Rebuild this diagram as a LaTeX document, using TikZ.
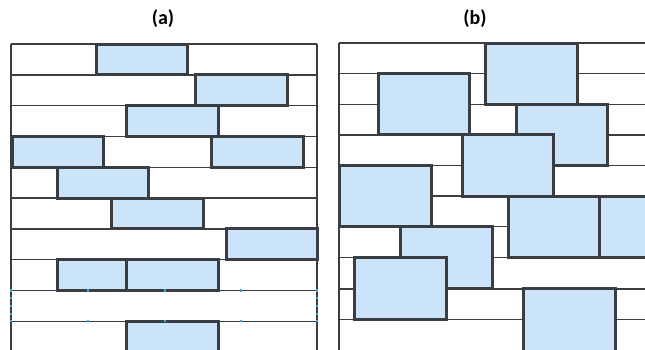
\documentclass[tikz,border=0pt]{standalone}
\usepackage{fontspec}
\setmainfont{Carlito}
\definecolor{edge}{HTML}{3A3D42}
\definecolor{tile}{HTML}{CCE4FA}
\definecolor{handle}{HTML}{3AA6DD}
\tikzset{
  gridline/.style={draw=edge, line width=1.4pt},
  tilebox/.style={draw=edge, fill=tile, line width=3pt, line join=miter},
  handlemark/.style={fill=handle, draw=none},
  paneltitle/.style={font=\fontsize{20}{22}\selectfont\bfseries, inner sep=0pt}
}
\begin{document}
\begin{tikzpicture}[x=1pt,y=-1pt]
\useasboundingbox (0,0) rectangle (645,349);
\fill[white] (0,0) rectangle (645,349);
\clip (0,0) rectangle (645,349);
% titles
\node[paneltitle] (ta) at (163,19) {(a)};
\node[paneltitle] (tb) at (475,19) {(b)};
% ---------- panel (a) ----------
\foreach \y in {44,74.8,105.6,136.4,167.2,198,228.8,259.6,290.4,321.2}
  \draw[gridline] (11,\y) -- (317,\y);
\draw[gridline] (11,44) -- (11,352);
\draw[gridline] (317,44) -- (317,352);
% tiles (a)
\draw[tilebox] (96,44) rectangle (187,74.8);
\draw[tilebox] (195,74.8) rectangle (287,105.6);
\draw[tilebox] (126,105.6) rectangle (218,136.4);
\draw[tilebox] (12,136.4) rectangle (103,167.2);
\draw[tilebox] (211,136.4) rectangle (303,167.2);
\draw[tilebox] (57,167.2) rectangle (148,198);
\draw[tilebox] (111,198) rectangle (203,228.8);
\draw[tilebox] (226,228.8) rectangle (317,259.6);
\draw[tilebox] (57,259.6) rectangle (126,290.4);
\draw[tilebox] (126,259.6) rectangle (218,290.4);
\draw[tilebox] (126,321.2) rectangle (218,360);
% selection handles
\foreach \x in {11,88,165,241,317}{
  \fill[handlemark] (\x-1.2,290.4-1.2) rectangle (\x+1.2,290.4+1.2);
  \fill[handlemark] (\x-1.2,321.2-1.2) rectangle (\x+1.2,321.2+1.2);
}
\foreach \x in {11,317}
  \foreach \y in {298,306,314}
    \fill[handlemark] (\x-1.2,\y-1.2) rectangle (\x+1.2,\y+1.2);
% ---------- panel (b) ----------
\foreach \y in {43,73.6,104.2,134.8,165.4,196,226.6,257.2,288.8,319.4}
  \draw[gridline] (339,\y) -- (650,\y);
\draw[gridline] (339,43) -- (339,352);
% tiles (b)
\draw[tilebox] (485,43) rectangle (577,104.2);
\draw[tilebox] (378,73.6) rectangle (469,134.8);
\draw[tilebox] (516,104.2) rectangle (607,165.4);
\draw[tilebox] (462,134.8) rectangle (553,196);
\draw[tilebox] (339,165.4) rectangle (431,226.6);
\draw[tilebox] (508,196) rectangle (599,257.2);
\draw[tilebox] (599,196) rectangle (690,257.2);
\draw[tilebox] (400,226.6) rectangle (492,288.8);
\draw[tilebox] (354,257.2) rectangle (446,319.4);
\draw[tilebox] (523,288.8) rectangle (615,360);
\end{tikzpicture}
\end{document}
